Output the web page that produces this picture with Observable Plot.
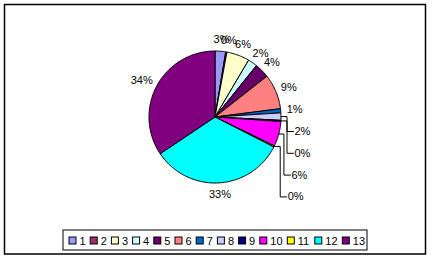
<!DOCTYPE html>
<html>
<head>
<meta charset="utf-8">
<script src="https://cdn.jsdelivr.net/npm/d3@7"></script>
<script src="https://cdn.jsdelivr.net/npm/@observablehq/plot@0.6"></script>
<style>
  html, body { margin: 0; padding: 0; background: #fff; }
  #chart svg { display: block; }
</style>
</head>
<body>
<div id="chart"></div>
<script>
// Categories and their shares (percent), clockwise from 12 o'clock
const categories = ["1", "2", "3", "4", "5", "6", "7", "8", "9", "10", "11", "12", "13"];
const shares = [2.6, 0.3, 5.6, 2.3, 3.6, 8.6, 1.0, 1.8, 0.3, 6.1, 0.3, 33.1, 34.4];
const sliceColors = ["#9999FF", "#993366", "#FFFFCC", "#CCFFFF", "#660066", "#FF8080",
                     "#0066CC", "#CCCCFF", "#000080", "#FF00FF", "#FFFF00", "#00FFFF", "#800080"];
// Slices whose labels sit in a stacked column with leader lines
const leaderSlices = ["8", "9", "10", "11"];

const W = 432, H = 260;
const cx = 214.5, cy = 116.5, r = 66;
const font = "'Liberation Sans', Arial, sans-serif";

const total = d3.sum(shares);
let acc = 0;
const slices = categories.map((c, i) => {
  const a0 = acc / total * 2 * Math.PI;
  acc += shares[i];
  const a1 = acc / total * 2 * Math.PI;
  return {cat: c, value: shares[i], a0, a1, mid: (a0 + a1) / 2,
          label: Math.round(shares[i] / total * 100) + "%"};
});

const px = (a, rad) => cx + rad * Math.sin(a);
const py = (a, rad) => cy - rad * Math.cos(a);

// Slice outlines: centre, arc points, back to centre
const wedgePts = [];
for (const s of slices) {
  const n = Math.max(2, Math.ceil((s.a1 - s.a0) / 0.02));
  wedgePts.push({cat: s.cat, x: cx, y: cy});
  for (let k = 0; k <= n; k++) {
    const a = s.a0 + (s.a1 - s.a0) * k / n;
    wedgePts.push({cat: s.cat, x: px(a, r), y: py(a, r)});
  }
  wedgePts.push({cat: s.cat, x: cx, y: cy});
}

// Label placement: radial labels around the rim, stacked labels with leaders
const textW = (t) => (t.length - 1) * 6.1 + 9.8;
const labelH = 11;
const rimLabels = [];
const stackLabels = [];
const leaders = [];
const radial = (s) => {
  const R = r + 6;
  return {x: px(s.mid, R) + textW(s.label) / 2 * Math.sin(s.mid),
          y: py(s.mid, R) - labelH / 2 * Math.cos(s.mid)};
};
const baseY = radial(slices[6]).y;
for (const s of slices) {
  const li = leaderSlices.indexOf(s.cat);
  if (li < 0) {
    const p = radial(s);
    rimLabels.push({x: p.x, y: p.y, text: s.label});
  } else {
    const ly = baseY + 21.8 * (li + 1);
    const left = cx + r + 13.5 - Math.max(0, ly - cy - 40) * 0.17;
    stackLabels.push({x: left, y: ly, text: s.label});
    const xv = left - 7.5;
    const ex = px(s.mid, r), ey = py(s.mid, r);
    for (const [x, y] of [[ex, ey], [xv, ey], [xv, ly], [left - 1, ly]]) {
      leaders.push({cat: s.cat, x, y});
    }
  }
}

// Legend entries laid out in a single row
const legend = [];
let lx = 69;
for (let i = 0; i < categories.length; i++) {
  legend.push({cat: categories[i], x: lx});
  lx += 14.9 + 6.3 * categories[i].length;
}
const legY = 240.5;
const legBox = [{x1: 63, x2: 367, y1: 230, y2: 250}];
const frameBox = [{x1: 4.5, x2: 425.5, y1: 4.5, y2: 254}];

const chart = Plot.plot({
  width: W, height: H,
  margin: 0,
  style: {background: "#fff", fontFamily: font},
  x: {domain: [0, W], range: [0, W], axis: null},
  y: {domain: [0, H], range: [0, H], axis: null},
  color: {domain: categories, range: sliceColors},
  marks: [
    Plot.rect(frameBox, {x1: "x1", x2: "x2", y1: "y1", y2: "y2", fill: "none", stroke: "#000", strokeWidth: 1.5}),
    Plot.line(wedgePts, {x: "x", y: "y", z: "cat", fill: "cat", stroke: "#000", strokeWidth: 1, curve: "linear"}),
    Plot.line(leaders, {x: "x", y: "y", z: "cat", stroke: "#000", strokeWidth: 1}),
    Plot.text(rimLabels, {x: "x", y: "y", text: "text", textAnchor: "middle",
                          fill: "#000", fontSize: 11, fontFamily: font}),
    Plot.text(stackLabels, {x: "x", y: "y", text: "text", textAnchor: "start",
                            fill: "#000", fontSize: 11, fontFamily: font}),
    Plot.rect(legBox, {x1: "x1", x2: "x2", y1: "y1", y2: "y2", fill: "none", stroke: "#000", strokeWidth: 1}),
    Plot.rect(legend, {x1: (d) => d.x, x2: (d) => d.x + 7, y1: legY - 3.5, y2: legY + 3.5, fill: "cat", stroke: "#000", strokeWidth: 1}),
    Plot.text(legend, {x: (d) => d.x + 10, y: legY, text: "cat", textAnchor: "start", fill: "#000", fontSize: 11, fontFamily: font})
  ]
});
document.getElementById("chart").appendChild(chart);
</script>
</body>
</html>
